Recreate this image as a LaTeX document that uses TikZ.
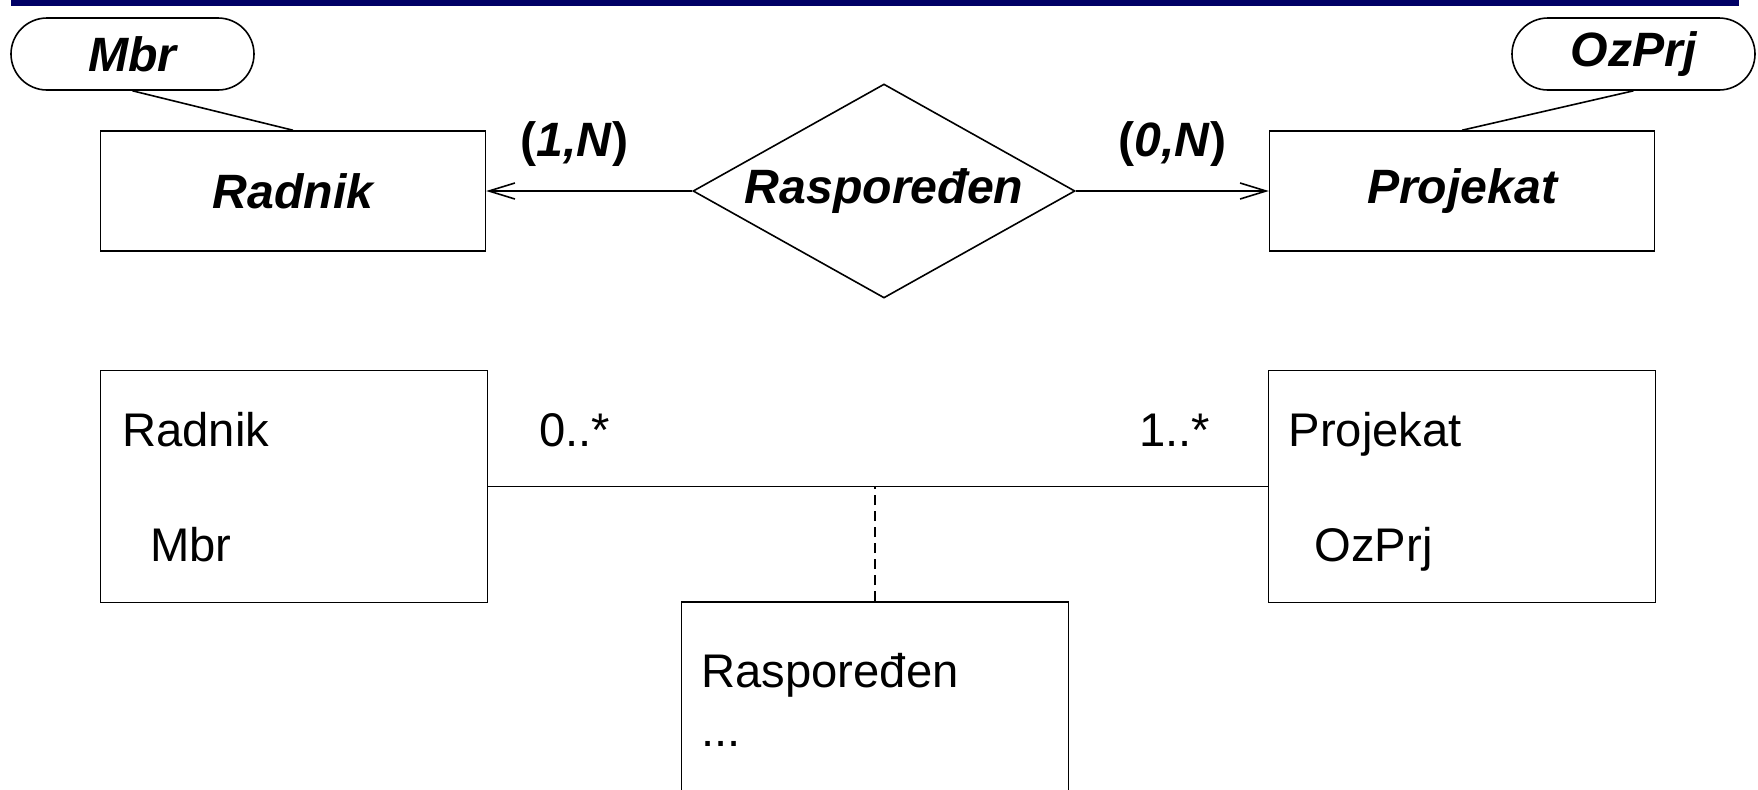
\documentclass[tikz,border=0pt]{standalone}
\usepackage{fontspec}
\setmainfont{Liberation Sans}
\usepackage{xcolor}
\usetikzlibrary{shapes.geometric, arrows.meta, positioning, calc}
\definecolor{traka}{RGB}{0,0,102}
\newcommand{\velfont}{\fontsize{23.6}{28}\selectfont}
\newcommand{\erfont}{\fontsize{24.1}{28}\selectfont\bfseries}

\begin{document}
\begin{tikzpicture}[
    x=0.5pt, y=-0.5pt,
    line width=0.8pt,
    font=\velfont,
    entity/.style={draw, rectangle, minimum width=192.5pt, minimum height=60pt,
      inner sep=0pt, font=\erfont\itshape},
    attrib/.style={draw, rectangle, rounded corners=18pt, minimum width=121.5pt,
      minimum height=36pt, inner sep=0pt, font=\erfont\itshape},
    relnode/.style={draw, shape=diamond, aspect=1.785, minimum width=191pt,
      minimum height=107pt, inner sep=0pt, font=\erfont\itshape},
    klasa/.style={draw, rectangle, minimum width=193.5pt, minimum height=116pt, inner sep=0pt},
    txt/.style={anchor=base west, inner sep=0pt},
    card/.style={anchor=base, inner sep=0pt, yshift=17.5pt, font=\erfont},
    arrow/.style={->, >={Straight Barb[length=13pt, width=8pt]}}
]
\useasboundingbox (0,0) rectangle (1758,789);
\fill[traka] (11,0) rectangle (1739,6);

% ER model
\node (raspor) [relnode] at (884,191) {Raspoređen};
\node (radnik) [entity, left=103pt of raspor] {Radnik};
\node (projekat) [entity, right=96.5pt of raspor] {Projekat};
\node (mbr) [attrib] at (132.5,54) {Mbr};
\node (ozprj) [attrib] at (1633.5,54) {OzPrj};

\draw (mbr.south) -- (radnik.north);
\draw (ozprj.south) -- (projekat.north);
\draw[arrow] (raspor) -- node[card, pos=0.573] {(\textit{1,N})} (radnik);
\draw[arrow] (raspor) -- node[card, pos=0.5] {(\textit{0,N})} (projekat);

% UML model
\node (radnikK) [klasa, below=59pt of radnik, xshift=0.5pt] {};
\node (projekatK) [klasa, below=59pt of projekat] {};
\node (rasporK) [klasa, anchor=north, minimum height=140pt] at (875,601) {};

\node (radnikKime) [txt] at ($(radnikK.north west)+(22,77)$) {Radnik};
\node (radnikKmbr) [txt] at ($(radnikK.north west)+(50,192)$) {Mbr};
\node (projekatKime) [txt] at ($(projekatK.north west)+(20,77)$) {Projekat};
\node (projekatKoz) [txt] at ($(projekatK.north west)+(46,192)$) {OzPrj};
\node (rasporKime) [txt] at ($(rasporK.north west)+(20,86)$) {Raspoređen};
\node (rasporKatr) [txt] at ($(rasporK.north west)+(20,145)$) {...};
\node (kard1) [txt] at ($(radnikK.north east)+(50,77)$) {0..*};
\node (kard2) [txt, anchor=base east] at ($(projekatK.north west)+(-57,77)$) {1..*};

\coordinate (veza) at (rasporK.north |- radnikK.east);
\draw (radnikK) -- (projekatK);
\draw[dash pattern=on 5pt off 3pt] (rasporK.north) -- (veza);
\end{tikzpicture}
\end{document}
